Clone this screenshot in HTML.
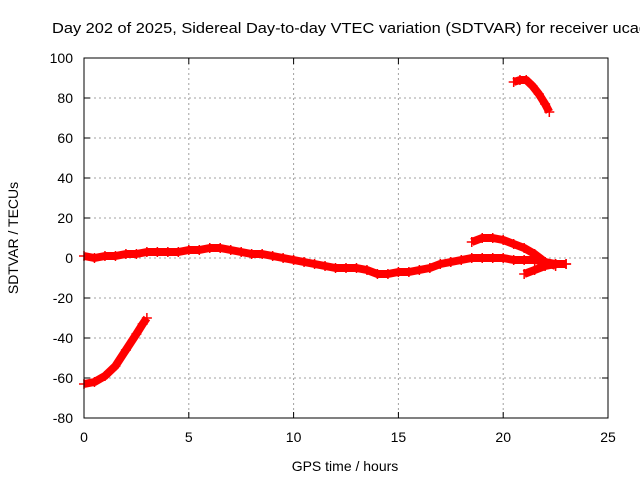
<!DOCTYPE html>
<html><head><meta charset="utf-8"><style>
body{margin:0;background:#fff;width:640px;height:480px;overflow:hidden}
svg{font-family:"Liberation Sans",sans-serif;font-size:14px}
</style></head><body>
<svg id="chart" width="640" height="480">
<text x="52" y="33" font-size="14.5" textLength="596" lengthAdjust="spacingAndGlyphs">Day 202 of 2025, Sidereal Day-to-day VTEC variation (SDTVAR) for receiver ucag</text>
<g id="grid"></g>
<g id="axes"></g>
<g id="series"></g>
<text x="345" y="471" text-anchor="middle">GPS time / hours</text>
<text transform="translate(18,238) rotate(-90)" text-anchor="middle">SDTVAR / TECUs</text>
<rect x="84" y="58" width="524" height="360" fill="none" stroke="#000"/>
</svg>
<script>
const xTicks=[0,5,10,15,20,25];
const yTicks=[100,80,60,40,20,0,-20,-40,-60,-80];
const mainX=[0,0.5,1,1.5,2,2.5,3,3.5,4,4.5,5,5.5,6,6.5,7,7.5,8,8.5,9,9.5,10,10.5,11,11.5,12,12.5,13,13.5,14,14.5,15,15.5,16,16.5,17,17.5,18,18.5,19,19.5,20,20.5,21,21.5,22,22.5,23];
const mainY=[1,0,1,1,2,2,3,3,3,3,4,4,5,5,4,3,2,2,1,0,-1,-2,-3,-4,-5,-5,-5,-6,-8,-8,-7,-7,-6,-5,-3,-2,-1,0,0,0,0,-1,-1,-1,-2,-3,-3];
const upX=[18.5,19,19.5,20,20.5,21,21.5,22,22.5];
const upY=[8,10,10,9,7,5,2,-2,-4];
const lowX=[21,21.5,22,22.5,23];
const lowY=[-8,-6,-4,-3,-3];
const topX=[20.5,20.8,21.1,21.4,21.7,22,22.2];
const topY=[88,89,89,86,82,77,73];
const botX=[0,0.5,1,1.5,2,2.5,2.8,3];
const botY=[-63,-62,-59,-54,-46,-38,-33,-30];
const X=v=>84+v*524/25, Y=v=>58+(100-v)*2;
const NS="http://www.w3.org/2000/svg";
function mk(t,p,a){const e=document.createElementNS(NS,t);for(const k in a)e.setAttribute(k,a[k]);p.appendChild(e);return e;}
const grid=document.getElementById('grid'),axes=document.getElementById('axes'),ser=document.getElementById('series');
xTicks.forEach(t=>{
 if(t>0&&t<25){const l=mk('line',grid,{x1:X(t),x2:X(t),y1:58,y2:418,stroke:'#a0a0a0','stroke-dasharray':'2,3'});
 
 }
 mk('line',axes,{x1:X(t),x2:X(t),y1:418,y2:412,stroke:'#000'});
 mk('line',axes,{x1:X(t),x2:X(t),y1:58,y2:64,stroke:'#000'});
 const tx=mk('text',axes,{x:X(t),y:442,'text-anchor':'middle'});tx.textContent=t;
 
 
});
yTicks.forEach(t=>{
 if(t<100&&t>-80){const l=mk('line',grid,{x1:84,x2:608,y1:Y(t),y2:Y(t),stroke:'#a0a0a0','stroke-dasharray':'2,3'});
 
 }
 mk('line',axes,{x1:84,x2:90,y1:Y(t),y2:Y(t),stroke:'#000'});
 mk('line',axes,{x1:608,x2:602,y1:Y(t),y2:Y(t),stroke:'#000'});
 const tx=mk('text',axes,{x:73,y:Y(t)+5,'text-anchor':'end'});tx.textContent=t;
 
 
});
function series(xs,ys,name){
 const g=mk('g',ser,{});
 
 
 mk('polyline',g,{points:xs.map((x,i)=>X(x)+','+Y(ys[i])).join(' '),fill:'none',stroke:'#f00','stroke-width':8,'stroke-linejoin':'round'});
 xs.forEach((x,i)=>{const cx=X(x),cy=Y(ys[i]);
  const p=mk('path',g,{d:`M${cx-5},${cy}h10M${cx},${cy-5}v10`,stroke:'#f00','stroke-width':1.5});
  
  });
}
series(mainX,mainY,'main-series');
series(upX,upY,'upper-branch-series');
series(lowX,lowY,'lower-branch-series');
series(topX,topY,'top-arc-series');
series(botX,botY,'bottom-arc-series');
</script>
</body></html>
